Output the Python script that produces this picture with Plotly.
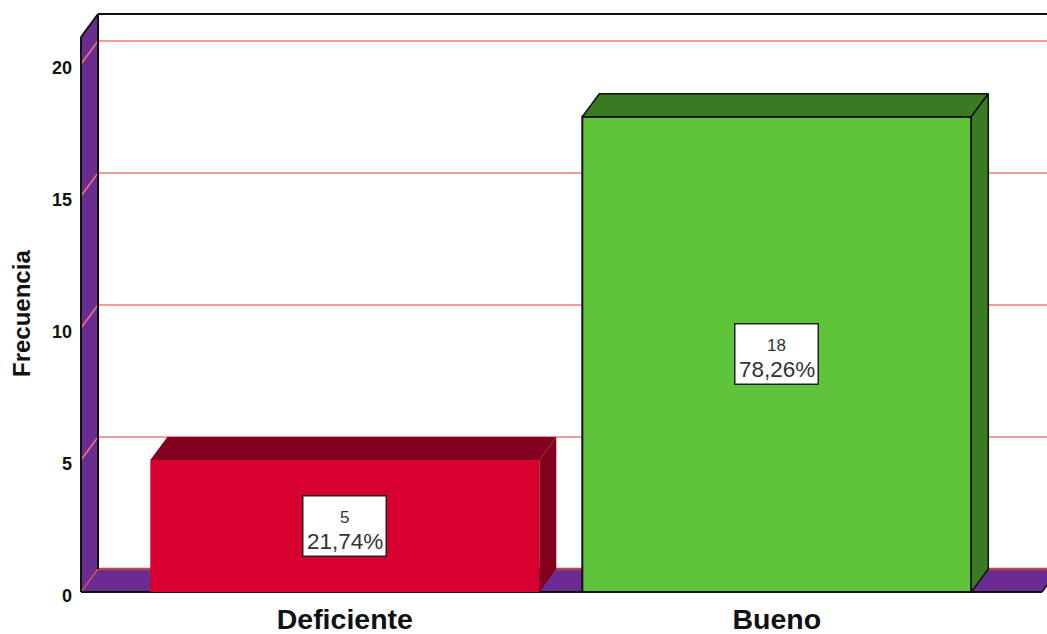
import plotly.graph_objects as go

categories = ["Deficiente", "Bueno"]
counts = [5, 18]
percent_labels = ["21,74%", "78,26%"]
y_ticks = [0, 5, 10, 15, 20]
y_title = "Frecuencia"

front_colors = ["#D7002E", "#5FC439"]
dark_colors = ["#84001F", "#3A7A23"]
outline_colors = ["rgba(0,0,0,0)", "#111111"]
WALL = "#6A2C91"
GRID = "#F0787C"
INK = "#111111"

PX_X = 432.0
PX_Y = 26.4
DX = 17 / PX_X
DY = 23 / PX_Y
BAR_W = 389 / PX_X
X_L = -0.6123 + 0.7 / PX_X
X_R = 1.6123 + 0.7 / PX_X
Y_TOP = 21.02
W, H = 1047, 634
ML, MT, MB = 78, 13, 40
x_range = [X_L - 3 / PX_X, X_L + (W - 81) / PX_X]
y_range = [-2 / PX_Y, (592 - MT) / PX_Y]


def poly(pts):
    return "M " + " L ".join(f"{x},{y}" for x, y in pts) + " Z"


shapes = []


def add_poly(pts, fill, line=None, width=0):
    shapes.append(dict(type="path", path=poly(pts), xref="x", yref="y", layer="below",
                       fillcolor=fill, line=dict(color=line or "rgba(0,0,0,0)", width=width)))


def add_line(x0, y0, x1, y1, color, width):
    shapes.append(dict(type="line", x0=x0, y0=y0, x1=x1, y1=y1, xref="x", yref="y", layer="below",
                       line=dict(color=color, width=width)))


# floor and left wall
add_poly([(X_L, 0), (X_R, 0), (X_R + DX, DY), (X_L + DX, DY)], WALL)
add_poly([(X_L, 0), (X_L + DX, DY), (X_L + DX, Y_TOP + DY), (X_L, Y_TOP)], WALL)
# gridlines
for t in y_ticks:
    add_line(X_L, t, X_L + DX, t + DY, GRID if t else "#C9504F", 1.5)
    add_line(X_L + DX, t + DY, X_R + DX, t + DY, GRID if t else "#B5484A", 1.5 if t else 2.5)
# frame
add_line(X_L, 0, X_R, 0, INK, 2)
add_line(X_R, 0, X_R + DX, DY, INK, 1.5)
add_line(X_L, 0, X_L, Y_TOP, INK, 2)
add_line(X_L, Y_TOP, X_L + DX, Y_TOP + DY, INK, 2)
add_line(X_L + DX, DY, X_L + DX, Y_TOP + DY, INK, 2)
add_line(X_L + DX, Y_TOP + DY, X_R + DX, Y_TOP + DY, INK, 2)

fig = go.Figure()
xs = list(range(len(categories)))
fig.add_trace(go.Bar(x=xs, y=counts, width=BAR_W, showlegend=False, hoverinfo="skip",
                     marker=dict(color=front_colors, line=dict(color=outline_colors, width=2))))

for i, v in enumerate(counts):
    l, r = i - BAR_W / 2, i + BAR_W / 2
    faces = [[(l, v), (l + DX, v + DY), (r + DX, v + DY), (r, v), (l, v)],
             [(r, 0), (r + DX, DY), (r + DX, v + DY), (r, v), (r, 0)]]
    for face in faces:
        fig.add_trace(go.Scatter(x=[p[0] for p in face], y=[p[1] for p in face], mode="lines",
                                 fill="toself", fillcolor=dark_colors[i], hoverinfo="skip",
                                 showlegend=False,
                                 line=dict(color=outline_colors[i], width=1.5)))

annotations = []
TEXT_GREY = "#333333"
for i, v in enumerate(counts):
    annotations.append(dict(x=i, y=v / 2, xref="x", yref="y", showarrow=False, text=" ",
                            bgcolor="white", bordercolor="#222222", borderwidth=1.5,
                            width=80, height=57))
    annotations.append(dict(x=i, y=v / 2, xref="x", yref="y", yshift=9, showarrow=False,
                            text=str(v), font=dict(family="Liberation Sans", size=17, color=TEXT_GREY)))
    annotations.append(dict(x=i, y=v / 2, xref="x", yref="y", yshift=-15, showarrow=False,
                            text=percent_labels[i], font=dict(family="Liberation Sans", size=22.5, color=TEXT_GREY)))

annotations.append(dict(x=(21 - ML) / (W - ML), y=(H - MB - 314) / (H - MT - MB), xref="paper", yref="paper",
                        xanchor="center", yanchor="middle",
                        showarrow=False, textangle=-90, text=y_title,
                        font=dict(family="Liberation Sans", size=24, weight=700, color="#111111")))

fig.update_layout(
    width=W, height=H, autosize=False, margin=dict(l=ML, r=0, t=MT, b=MB, pad=0),
    paper_bgcolor="white", plot_bgcolor="white", shapes=shapes, annotations=annotations,
    font=dict(family="Liberation Sans"),
    xaxis=dict(range=x_range, tickvals=xs, ticktext=categories, showgrid=False, zeroline=False,
               showline=False, ticks="", ticklabelstandoff=5, automargin=False,
               tickfont=dict(family="Liberation Sans", size=28.5, weight=700, color="#111111")),
    yaxis=dict(range=y_range, tickvals=y_ticks, showgrid=False, zeroline=False, showline=False,
               ticks="", ticklabelstandoff=5, ticklabelshift=4, automargin=False,
               tickfont=dict(family="Liberation Sans", size=18, weight=700, color="#111111")),
)

fig.write_html("out.html", post_script="document.body.style.margin='0';",
               config={"displayModeBar": False})
